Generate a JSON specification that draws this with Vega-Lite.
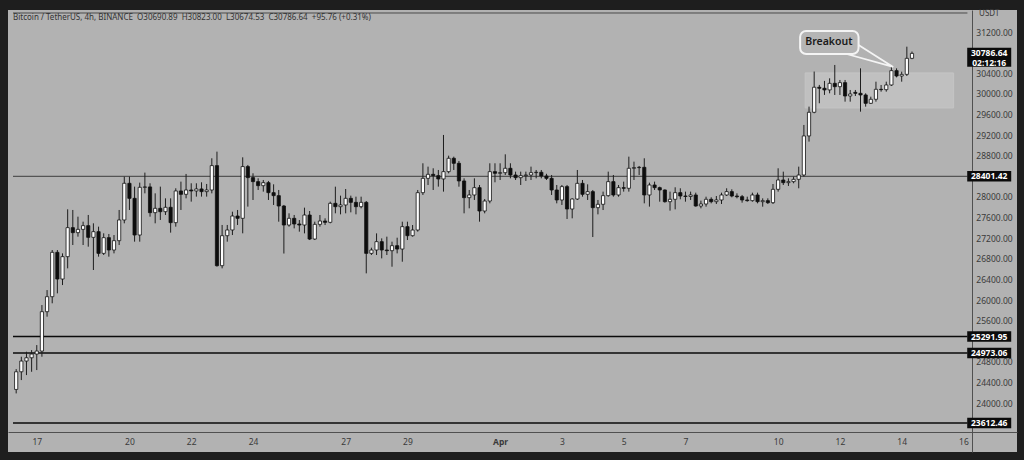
{
"$schema": "https://vega.github.io/schema/vega-lite/v6.json",
"width": 1009, "height": 442,
"autosize": {"type": "none"},
"padding": {"left": 8, "top": 10, "right": 7, "bottom": 8},
"background": "#1e1e1e",
"config": {"view": {"fill": "#b2b2b2", "stroke": null}, "font": "Noto Sans", "axis": {"labelOverlap": false}},
"title": {"text": "Bitcoin / TetherUS, 4h, BINANCE \u00a0O30690.89 \u00a0H30823.00 \u00a0L30674.53 \u00a0C30786.64 \u00a0+95.76 (+0.31%)", "anchor": "start", "frame": "group", "offset": -18, "baseline": "alphabetic", "dx": 5, "fontSize": 8, "fontWeight": "normal", "color": "#333333"},
"datasets": {
"candles": [
{"t":"2023-03-16T08:00Z","o":24265,"h":24660,"l":24188,"c":24608},
{"t":"2023-03-16T12:00Z","o":24608,"h":24900,"l":24447,"c":24816},
{"t":"2023-03-16T16:00Z","o":24816,"h":24997,"l":24544,"c":24880},
{"t":"2023-03-16T20:00Z","o":24880,"h":25029,"l":24608,"c":24952},
{"t":"2023-03-17T00:00Z","o":24952,"h":25126,"l":24641,"c":25010},
{"t":"2023-03-17T04:00Z","o":25010,"h":25903,"l":24900,"c":25774},
{"t":"2023-03-17T08:00Z","o":25774,"h":26194,"l":25677,"c":26065},
{"t":"2023-03-17T12:00Z","o":26065,"h":26971,"l":25937,"c":26926},
{"t":"2023-03-17T16:00Z","o":26926,"h":26971,"l":26130,"c":26408},
{"t":"2023-03-17T20:00Z","o":26408,"h":26906,"l":26291,"c":26842},
{"t":"2023-03-18T00:00Z","o":26842,"h":27761,"l":26615,"c":27405},
{"t":"2023-03-18T04:00Z","o":27405,"h":27748,"l":27068,"c":27308},
{"t":"2023-03-18T08:00Z","o":27308,"h":27618,"l":27230,"c":27372},
{"t":"2023-03-18T12:00Z","o":27372,"h":27521,"l":27068,"c":27444},
{"t":"2023-03-18T16:00Z","o":27444,"h":27651,"l":27036,"c":27217},
{"t":"2023-03-18T20:00Z","o":27217,"h":27489,"l":26583,"c":27327},
{"t":"2023-03-19T00:00Z","o":27327,"h":27424,"l":26842,"c":26906},
{"t":"2023-03-19T04:00Z","o":26906,"h":27295,"l":26874,"c":27211},
{"t":"2023-03-19T08:00Z","o":27211,"h":27282,"l":26842,"c":26971},
{"t":"2023-03-19T12:00Z","o":26971,"h":27262,"l":26906,"c":27152},
{"t":"2023-03-19T16:00Z","o":27152,"h":27748,"l":27068,"c":27554},
{"t":"2023-03-19T20:00Z","o":27554,"h":28395,"l":27489,"c":28266},
{"t":"2023-03-20T00:00Z","o":28266,"h":28395,"l":27748,"c":27974},
{"t":"2023-03-20T04:00Z","o":27974,"h":28201,"l":27133,"c":27262},
{"t":"2023-03-20T08:00Z","o":27262,"h":28279,"l":27133,"c":28188},
{"t":"2023-03-20T12:00Z","o":28188,"h":28473,"l":28071,"c":28195},
{"t":"2023-03-20T16:00Z","o":28195,"h":28266,"l":27618,"c":27696},
{"t":"2023-03-20T20:00Z","o":27696,"h":28071,"l":27489,"c":27780},
{"t":"2023-03-21T00:00Z","o":27780,"h":28201,"l":27554,"c":27715},
{"t":"2023-03-21T04:00Z","o":27715,"h":27974,"l":27651,"c":27800},
{"t":"2023-03-21T08:00Z","o":27800,"h":27974,"l":27308,"c":27502},
{"t":"2023-03-21T12:00Z","o":27502,"h":28169,"l":27424,"c":28117},
{"t":"2023-03-21T16:00Z","o":28117,"h":28298,"l":27748,"c":28052},
{"t":"2023-03-21T20:00Z","o":28052,"h":28447,"l":27974,"c":28136},
{"t":"2023-03-22T00:00Z","o":28136,"h":28266,"l":27910,"c":28117},
{"t":"2023-03-22T04:00Z","o":28117,"h":28266,"l":28007,"c":28156},
{"t":"2023-03-22T08:00Z","o":28156,"h":28285,"l":28007,"c":28104},
{"t":"2023-03-22T12:00Z","o":28104,"h":28253,"l":28007,"c":28136},
{"t":"2023-03-22T16:00Z","o":28136,"h":28751,"l":28071,"c":28609},
{"t":"2023-03-22T20:00Z","o":28609,"h":28880,"l":26648,"c":26667},
{"t":"2023-03-23T00:00Z","o":26667,"h":27457,"l":26615,"c":27249},
{"t":"2023-03-23T04:00Z","o":27249,"h":27457,"l":27133,"c":27360},
{"t":"2023-03-23T08:00Z","o":27360,"h":27715,"l":27262,"c":27631},
{"t":"2023-03-23T12:00Z","o":27631,"h":27748,"l":27457,"c":27586},
{"t":"2023-03-23T16:00Z","o":27586,"h":28770,"l":27295,"c":28590},
{"t":"2023-03-23T20:00Z","o":28590,"h":28622,"l":27813,"c":28376},
{"t":"2023-03-24T00:00Z","o":28376,"h":28460,"l":27942,"c":28298},
{"t":"2023-03-24T04:00Z","o":28298,"h":28362,"l":28136,"c":28220},
{"t":"2023-03-24T08:00Z","o":28220,"h":28330,"l":28104,"c":28278},
{"t":"2023-03-24T12:00Z","o":28278,"h":28311,"l":27942,"c":28084},
{"t":"2023-03-24T16:00Z","o":28084,"h":28246,"l":27845,"c":28026},
{"t":"2023-03-24T20:00Z","o":28026,"h":28136,"l":27521,"c":27825},
{"t":"2023-03-25T00:00Z","o":27825,"h":27845,"l":26903,"c":27456},
{"t":"2023-03-25T04:00Z","o":27456,"h":27683,"l":27424,"c":27586},
{"t":"2023-03-25T08:00Z","o":27586,"h":27651,"l":27391,"c":27476},
{"t":"2023-03-25T12:00Z","o":27476,"h":27553,"l":27327,"c":27456},
{"t":"2023-03-25T16:00Z","o":27456,"h":27793,"l":27294,"c":27650},
{"t":"2023-03-25T20:00Z","o":27650,"h":27728,"l":27165,"c":27184},
{"t":"2023-03-26T00:00Z","o":27184,"h":27521,"l":27165,"c":27469},
{"t":"2023-03-26T04:00Z","o":27469,"h":27650,"l":27424,"c":27534},
{"t":"2023-03-26T08:00Z","o":27534,"h":27586,"l":27456,"c":27508},
{"t":"2023-03-26T12:00Z","o":27508,"h":27909,"l":27489,"c":27877},
{"t":"2023-03-26T16:00Z","o":27877,"h":28200,"l":27683,"c":27812},
{"t":"2023-03-26T20:00Z","o":27812,"h":28026,"l":27663,"c":27845},
{"t":"2023-03-27T00:00Z","o":27845,"h":28155,"l":27683,"c":27974},
{"t":"2023-03-27T04:00Z","o":27974,"h":28026,"l":27702,"c":27896},
{"t":"2023-03-27T08:00Z","o":27896,"h":28006,"l":27663,"c":27812},
{"t":"2023-03-27T12:00Z","o":27812,"h":28006,"l":27780,"c":27896},
{"t":"2023-03-27T16:00Z","o":27896,"h":27922,"l":26518,"c":26906},
{"t":"2023-03-27T20:00Z","o":26906,"h":27016,"l":26874,"c":26971},
{"t":"2023-03-28T00:00Z","o":26971,"h":27294,"l":26874,"c":27133},
{"t":"2023-03-28T04:00Z","o":27133,"h":27197,"l":26809,"c":26971},
{"t":"2023-03-28T08:00Z","o":26971,"h":27230,"l":26874,"c":26958},
{"t":"2023-03-28T12:00Z","o":26958,"h":27133,"l":26647,"c":27055},
{"t":"2023-03-28T16:00Z","o":27055,"h":27210,"l":26906,"c":26990},
{"t":"2023-03-28T20:00Z","o":26990,"h":27521,"l":26744,"c":27424},
{"t":"2023-03-29T00:00Z","o":27424,"h":27521,"l":27165,"c":27249},
{"t":"2023-03-29T04:00Z","o":27249,"h":27456,"l":27230,"c":27359},
{"t":"2023-03-29T08:00Z","o":27359,"h":28136,"l":27327,"c":28084},
{"t":"2023-03-29T12:00Z","o":28084,"h":28654,"l":28039,"c":28362},
{"t":"2023-03-29T16:00Z","o":28362,"h":28589,"l":28233,"c":28440},
{"t":"2023-03-29T20:00Z","o":28440,"h":28557,"l":28136,"c":28414},
{"t":"2023-03-30T00:00Z","o":28414,"h":28524,"l":28201,"c":28350},
{"t":"2023-03-30T04:00Z","o":28350,"h":29204,"l":28104,"c":28492},
{"t":"2023-03-30T08:00Z","o":28492,"h":28802,"l":28459,"c":28751},
{"t":"2023-03-30T12:00Z","o":28751,"h":28783,"l":28524,"c":28654},
{"t":"2023-03-30T16:00Z","o":28654,"h":28699,"l":28200,"c":28311},
{"t":"2023-03-30T20:00Z","o":28311,"h":28362,"l":27683,"c":27987},
{"t":"2023-03-31T00:00Z","o":27987,"h":28136,"l":27780,"c":28039},
{"t":"2023-03-31T04:00Z","o":28039,"h":28362,"l":27942,"c":28181},
{"t":"2023-03-31T08:00Z","o":28181,"h":28233,"l":27521,"c":27728},
{"t":"2023-03-31T12:00Z","o":27728,"h":27961,"l":27683,"c":27922},
{"t":"2023-03-31T16:00Z","o":27922,"h":28654,"l":27877,"c":28492},
{"t":"2023-03-31T20:00Z","o":28492,"h":28654,"l":28285,"c":28460},
{"t":"2023-04-01T00:00Z","o":28460,"h":28654,"l":28330,"c":28472},
{"t":"2023-04-01T04:00Z","o":28472,"h":28828,"l":28427,"c":28557},
{"t":"2023-04-01T08:00Z","o":28557,"h":28654,"l":28362,"c":28427},
{"t":"2023-04-01T12:00Z","o":28427,"h":28492,"l":28330,"c":28375},
{"t":"2023-04-01T16:00Z","o":28375,"h":28492,"l":28233,"c":28414},
{"t":"2023-04-01T20:00Z","o":28414,"h":28492,"l":28311,"c":28427},
{"t":"2023-04-02T00:00Z","o":28427,"h":28589,"l":28330,"c":28472},
{"t":"2023-04-02T04:00Z","o":28472,"h":28524,"l":28362,"c":28480},
{"t":"2023-04-02T08:00Z","o":28480,"h":28524,"l":28362,"c":28408},
{"t":"2023-04-02T12:00Z","o":28408,"h":28450,"l":28330,"c":28362},
{"t":"2023-04-02T16:00Z","o":28362,"h":28427,"l":28039,"c":28136},
{"t":"2023-04-02T20:00Z","o":28136,"h":28233,"l":27877,"c":27942},
{"t":"2023-04-03T00:00Z","o":27942,"h":28233,"l":27845,"c":28201},
{"t":"2023-04-03T04:00Z","o":28201,"h":28233,"l":27573,"c":27767},
{"t":"2023-04-03T08:00Z","o":27767,"h":27974,"l":27586,"c":27961},
{"t":"2023-04-03T12:00Z","o":27961,"h":28524,"l":27942,"c":28265},
{"t":"2023-04-03T16:00Z","o":28265,"h":28330,"l":28006,"c":28052},
{"t":"2023-04-03T20:00Z","o":28052,"h":28246,"l":27942,"c":28104},
{"t":"2023-04-04T00:00Z","o":28104,"h":28136,"l":27223,"c":27793},
{"t":"2023-04-04T04:00Z","o":27793,"h":27942,"l":27663,"c":27858},
{"t":"2023-04-04T08:00Z","o":27858,"h":28104,"l":27747,"c":28026},
{"t":"2023-04-04T12:00Z","o":28026,"h":28492,"l":28006,"c":28298},
{"t":"2023-04-04T16:00Z","o":28298,"h":28427,"l":28006,"c":28039},
{"t":"2023-04-04T20:00Z","o":28039,"h":28233,"l":28006,"c":28181},
{"t":"2023-04-05T00:00Z","o":28181,"h":28298,"l":28104,"c":28169},
{"t":"2023-04-05T04:00Z","o":28169,"h":28783,"l":28104,"c":28557},
{"t":"2023-04-05T08:00Z","o":28557,"h":28686,"l":28330,"c":28570},
{"t":"2023-04-05T12:00Z","o":28570,"h":28602,"l":28427,"c":28576},
{"t":"2023-04-05T16:00Z","o":28576,"h":28751,"l":27877,"c":28039},
{"t":"2023-04-05T20:00Z","o":28039,"h":28278,"l":27813,"c":28233},
{"t":"2023-04-06T00:00Z","o":28233,"h":28298,"l":28136,"c":28181},
{"t":"2023-04-06T04:00Z","o":28181,"h":28201,"l":27909,"c":28136},
{"t":"2023-04-06T08:00Z","o":28136,"h":28149,"l":27890,"c":27909},
{"t":"2023-04-06T12:00Z","o":27909,"h":28104,"l":27735,"c":27955},
{"t":"2023-04-06T16:00Z","o":27955,"h":28188,"l":27760,"c":28084},
{"t":"2023-04-06T20:00Z","o":28084,"h":28169,"l":27955,"c":28019},
{"t":"2023-04-07T00:00Z","o":28019,"h":28104,"l":27909,"c":28010},
{"t":"2023-04-07T04:00Z","o":28010,"h":28104,"l":27942,"c":28039},
{"t":"2023-04-07T08:00Z","o":28039,"h":28084,"l":27812,"c":27825},
{"t":"2023-04-07T12:00Z","o":27825,"h":27929,"l":27780,"c":27864},
{"t":"2023-04-07T16:00Z","o":27864,"h":28006,"l":27812,"c":27955},
{"t":"2023-04-07T20:00Z","o":27955,"h":27994,"l":27877,"c":27909},
{"t":"2023-04-08T00:00Z","o":27909,"h":28019,"l":27864,"c":27942},
{"t":"2023-04-08T04:00Z","o":27942,"h":28084,"l":27864,"c":28039},
{"t":"2023-04-08T08:00Z","o":28039,"h":28169,"l":28019,"c":28104},
{"t":"2023-04-08T12:00Z","o":28104,"h":28149,"l":27994,"c":28019},
{"t":"2023-04-08T16:00Z","o":28019,"h":28071,"l":27974,"c":28006},
{"t":"2023-04-08T20:00Z","o":28006,"h":28039,"l":27890,"c":27942},
{"t":"2023-04-09T00:00Z","o":27942,"h":28006,"l":27909,"c":27929},
{"t":"2023-04-09T04:00Z","o":27929,"h":28084,"l":27909,"c":28039},
{"t":"2023-04-09T08:00Z","o":28039,"h":28084,"l":27877,"c":27909},
{"t":"2023-04-09T12:00Z","o":27909,"h":27974,"l":27812,"c":27929},
{"t":"2023-04-09T16:00Z","o":27929,"h":27974,"l":27864,"c":27890},
{"t":"2023-04-09T20:00Z","o":27890,"h":28252,"l":27864,"c":28149},
{"t":"2023-04-10T00:00Z","o":28149,"h":28557,"l":28104,"c":28330},
{"t":"2023-04-10T04:00Z","o":28330,"h":28492,"l":28233,"c":28278},
{"t":"2023-04-10T08:00Z","o":28278,"h":28362,"l":28214,"c":28298},
{"t":"2023-04-10T12:00Z","o":28298,"h":28395,"l":28266,"c":28343},
{"t":"2023-04-10T16:00Z","o":28343,"h":28589,"l":28169,"c":28427},
{"t":"2023-04-10T20:00Z","o":28427,"h":29398,"l":28395,"c":29185},
{"t":"2023-04-11T00:00Z","o":29185,"h":29754,"l":29075,"c":29644},
{"t":"2023-04-11T04:00Z","o":29644,"h":30434,"l":29625,"c":30130},
{"t":"2023-04-11T08:00Z","o":30130,"h":30175,"l":29819,"c":30110},
{"t":"2023-04-11T12:00Z","o":30110,"h":30253,"l":29981,"c":30078},
{"t":"2023-04-11T16:00Z","o":30078,"h":30303,"l":30012,"c":30206},
{"t":"2023-04-11T20:00Z","o":30206,"h":30562,"l":29980,"c":30141},
{"t":"2023-04-12T00:00Z","o":30141,"h":30271,"l":29980,"c":30219},
{"t":"2023-04-12T04:00Z","o":30219,"h":30271,"l":29850,"c":29960},
{"t":"2023-04-12T08:00Z","o":29960,"h":30077,"l":29850,"c":29999},
{"t":"2023-04-12T12:00Z","o":30031,"h":30077,"l":29960,"c":30012},
{"t":"2023-04-12T16:00Z","o":30012,"h":30497,"l":29656,"c":29980},
{"t":"2023-04-12T20:00Z","o":29980,"h":30012,"l":29753,"c":29818},
{"t":"2023-04-13T00:00Z","o":29818,"h":29947,"l":29805,"c":29896},
{"t":"2023-04-13T04:00Z","o":29896,"h":30238,"l":29850,"c":30090},
{"t":"2023-04-13T08:00Z","o":30090,"h":30174,"l":30044,"c":30083},
{"t":"2023-04-13T12:00Z","o":30083,"h":30238,"l":30044,"c":30174},
{"t":"2023-04-13T16:00Z","o":30174,"h":30529,"l":30155,"c":30452},
{"t":"2023-04-13T20:00Z","o":30452,"h":30497,"l":30322,"c":30348},
{"t":"2023-04-14T00:00Z","o":30348,"h":30432,"l":30238,"c":30380},
{"t":"2023-04-14T04:00Z","o":30380,"h":30917,"l":30348,"c":30691},
{"t":"2023-04-14T08:00Z","o":30690.89,"h":30823,"l":30674.53,"c":30786.64}
],
"levels": [
{"p": 28401.42, "lab": "28401.42"},
{"p": 25291.95, "lab": "25291.95"},
{"p": 24973.06, "lab": "24973.06"},
{"p": 23612.46, "lab": "23612.46"}
]
},
"layer": [
{
"data": {"values": [{"a": "2023-04-10T21:00Z", "b": "2023-04-15T16:20Z", "lo": 29728, "hi": 30408}]},
"mark": {"type": "rect", "fill": "#c0c0c0", "stroke": "#c4c4c4", "strokeWidth": 1},
"encoding": {
"x": {"field": "a", "type": "temporal",
"scale": {"type": "utc", "domain": [{"year":2023,"month":3,"date":16,"hours":5,"minutes":32,"utc":true},{"year":2023,"month":4,"date":17,"hours":13,"minutes":42,"utc":true}]},
"axis": {"orient": "bottom", "offset": -20, "title": null, "grid": false, "ticks": false, "tickSize": 0, "tickCount": 40, "labelPadding": 5, "labelFontSize": 8.5, "labelColor": "#3a3a3a", "domainColor": "#505050", "domainWidth": 1, "labelFlush": false, "labelOverlap": false, "zindex": 0,
"values": [{"year":2023,"month":3,"date":17,"utc":true},{"year":2023,"month":3,"date":20,"utc":true},{"year":2023,"month":3,"date":22,"utc":true},{"year":2023,"month":3,"date":24,"utc":true},{"year":2023,"month":3,"date":27,"utc":true},{"year":2023,"month":3,"date":29,"utc":true},{"year":2023,"month":4,"date":1,"utc":true},{"year":2023,"month":4,"date":3,"utc":true},{"year":2023,"month":4,"date":5,"utc":true},{"year":2023,"month":4,"date":7,"utc":true},{"year":2023,"month":4,"date":10,"utc":true},{"year":2023,"month":4,"date":12,"utc":true},{"year":2023,"month":4,"date":14,"utc":true},{"year":2023,"month":4,"date":16,"utc":true}],
"labelExpr": "utcFormat(datum.value, '%d') == '01' ? utcFormat(datum.value, '%b') : utcFormat(datum.value, '%-d')",
"labelFontWeight": {"condition": {"test": "utcFormat(datum.value, '%d') == '01'", "value": "bold"}, "value": "normal"}}},
"x2": {"field": "b"},
"y": {"field": "lo", "type": "quantitative", "scale": {"domain": [23051, 31629], "nice": false, "zero": false},
"axis": {"orient": "right", "offset": -45, "title": null, "grid": false, "ticks": false, "tickSize": 0, "tickCount": 40, "labelPadding": 22, "labelAlign": "center", "labelBaseline": "middle", "labelFontSize": 8.5, "labelColor": "#3a3a3a", "domainColor": "#505050", "domainWidth": 1, "labelFlush": false, "labelOverlap": false, "zindex": 0, "format": ".2f",
"values": [24000, 24400, 24800, 25600, 26000, 26400, 26800, 27200, 27600, 28000, 28800, 29200, 29600, 30000, 30400, 31200]}},
"y2": {"field": "hi"}
}
},
{
"data": {"name": "levels"},
"mark": {"type": "rule"},
"encoding": {
"x": {"datum": {"year":2023,"month":3,"date":16,"hours":5,"minutes":32,"utc":true}, "type": "temporal", "scale": {"type": "utc", "domain": [{"year":2023,"month":3,"date":16,"hours":5,"minutes":32,"utc":true},{"year":2023,"month":4,"date":17,"hours":13,"minutes":42,"utc":true}]}},
"x2": {"datum": {"year":2023,"month":4,"date":16,"hours":3,"minutes":4,"utc":true}},
"y": {"field": "p", "type": "quantitative", "scale": {"domain": [23051, 31629], "nice": false, "zero": false}},
"color": {"condition": {"test": "datum.p > 28000", "value": "#3c3c3c"}, "value": "#0a0a0a"},
"strokeWidth": {"condition": {"test": "datum.p > 28000", "value": 1}, "value": 1.6}
}
},
{
"data": {"values": [{"p": 31571}]},
"mark": {"type": "rule", "color": "#4a4a4a", "strokeWidth": 1},
"encoding": {
"x": {"datum": {"year":2023,"month":3,"date":16,"hours":5,"minutes":32,"utc":true}, "type": "temporal", "scale": {"type": "utc", "domain": [{"year":2023,"month":3,"date":16,"hours":5,"minutes":32,"utc":true},{"year":2023,"month":4,"date":17,"hours":13,"minutes":42,"utc":true}]}},
"x2": {"datum": {"year":2023,"month":4,"date":16,"hours":3,"minutes":4,"utc":true}},
"y": {"field": "p", "type": "quantitative", "scale": {"domain": [23051, 31629], "nice": false, "zero": false}}
}
},
{
"data": {"name": "candles"},
"mark": {"type": "rule", "color": "#1e1e1e", "strokeWidth": 1},
"encoding": {
"x": {"field": "t", "type": "temporal", "scale": {"type": "utc", "domain": [{"year":2023,"month":3,"date":16,"hours":5,"minutes":32,"utc":true},{"year":2023,"month":4,"date":17,"hours":13,"minutes":42,"utc":true}]}},
"y": {"field": "l", "type": "quantitative", "scale": {"domain": [23051, 31629], "nice": false, "zero": false}},
"y2": {"field": "h"}
}
},
{
"data": {"name": "candles"},
"mark": {"type": "bar", "size": 3.2, "stroke": "#111111", "strokeWidth": 0.8},
"encoding": {
"x": {"field": "t", "type": "temporal", "scale": {"type": "utc", "domain": [{"year":2023,"month":3,"date":16,"hours":5,"minutes":32,"utc":true},{"year":2023,"month":4,"date":17,"hours":13,"minutes":42,"utc":true}]}},
"y": {"field": "o", "type": "quantitative", "scale": {"domain": [23051, 31629], "nice": false, "zero": false}},
"y2": {"field": "c"},
"fill": {"condition": {"test": "datum.c >= datum.o", "value": "#ffffff"}, "value": "#0d0d0d"}
}
},
{
"data": {"values": [{"a": "2023-04-10T17:05Z", "b": "2023-04-12T14:28Z", "lo": 30775, "hi": 31222}]},
"mark": {"type": "rect", "fill": "#b5b5b5", "stroke": "#f4f4f4", "strokeWidth": 2, "cornerRadius": 6},
"encoding": {
"x": {"field": "a", "type": "temporal", "scale": {"type": "utc", "domain": [{"year":2023,"month":3,"date":16,"hours":5,"minutes":32,"utc":true},{"year":2023,"month":4,"date":17,"hours":13,"minutes":42,"utc":true}]}},
"x2": {"field": "b"},
"y": {"field": "lo", "type": "quantitative", "scale": {"domain": [23051, 31629], "nice": false, "zero": false}},
"y2": {"field": "hi"}
}
},
{
"data": {"values": [{"t": "2023-04-12T05:14Z", "p": 30775, "k": 1}, {"t": "2023-04-13T17:23Z", "p": 30523, "k": 2}, {"t": "2023-04-12T14:28Z", "p": 30950, "k": 3}]},
"mark": {"type": "line", "color": "#f4f4f4", "strokeWidth": 1.8},
"encoding": {
"x": {"field": "t", "type": "temporal", "scale": {"type": "utc", "domain": [{"year":2023,"month":3,"date":16,"hours":5,"minutes":32,"utc":true},{"year":2023,"month":4,"date":17,"hours":13,"minutes":42,"utc":true}]}},
"y": {"field": "p", "type": "quantitative", "scale": {"domain": [23051, 31629], "nice": false, "zero": false}},
"order": {"field": "k"}
}
},
{
"data": {"values": [{"t": "2023-04-11T15:23Z", "p": 31008, "s": "Breakout"}]},
"mark": {"type": "text", "fontSize": 10.5, "fontWeight": 600, "color": "#1a1a1a", "align": "center", "baseline": "middle"},
"encoding": {
"x": {"field": "t", "type": "temporal", "scale": {"type": "utc", "domain": [{"year":2023,"month":3,"date":16,"hours":5,"minutes":32,"utc":true},{"year":2023,"month":4,"date":17,"hours":13,"minutes":42,"utc":true}]}},
"y": {"field": "p", "type": "quantitative", "scale": {"domain": [23051, 31629], "nice": false, "zero": false}},
"text": {"field": "s"}
}
},
{
"data": {"name": "levels"},
"mark": {"type": "point", "shape": "M-1,-0.24H1V0.24H-1Z", "filled": true, "color": "#0b0b0b", "opacity": 1, "size": 1936, "strokeWidth": 0},
"encoding": {
"x": {"datum": {"year":2023,"month":4,"date":16,"hours":20,"utc":true}, "type": "temporal", "scale": {"type": "utc", "domain": [{"year":2023,"month":3,"date":16,"hours":5,"minutes":32,"utc":true},{"year":2023,"month":4,"date":17,"hours":13,"minutes":42,"utc":true}]}},
"y": {"field": "p", "type": "quantitative", "scale": {"domain": [23051, 31629], "nice": false, "zero": false}}
}
},
{
"data": {"name": "levels"},
"mark": {"type": "text", "fontSize": 8.5, "fontWeight": "bold", "color": "#ffffff", "align": "center", "baseline": "middle"},
"encoding": {
"x": {"datum": {"year":2023,"month":4,"date":16,"hours":20,"utc":true}, "type": "temporal", "scale": {"type": "utc", "domain": [{"year":2023,"month":3,"date":16,"hours":5,"minutes":32,"utc":true},{"year":2023,"month":4,"date":17,"hours":13,"minutes":42,"utc":true}]}},
"y": {"field": "p", "type": "quantitative", "scale": {"domain": [23051, 31629], "nice": false, "zero": false}},
"text": {"field": "lab"}
}
},
{
"data": {"values": [{"p": 30786.64, "lab": "30786.64", "sub": "02:12:16"}]},
"layer": [
{"mark": {"type": "point", "shape": "M-1,-0.26H1V0.61H-1Z", "filled": true, "color": "#0b0b0b", "opacity": 1, "size": 1936, "strokeWidth": 0}},
{"mark": {"type": "text", "fontSize": 8.5, "fontWeight": "bold", "color": "#ffffff", "align": "center", "baseline": "middle"}, "encoding": {"text": {"field": "lab"}}},
{"mark": {"type": "text", "fontSize": 8.5, "fontWeight": "bold", "color": "#ffffff", "align": "center", "baseline": "middle", "dy": 9.5}, "encoding": {"text": {"field": "sub"}}}
],
"encoding": {
"x": {"datum": {"year":2023,"month":4,"date":16,"hours":20,"utc":true}, "type": "temporal", "scale": {"type": "utc", "domain": [{"year":2023,"month":3,"date":16,"hours":5,"minutes":32,"utc":true},{"year":2023,"month":4,"date":17,"hours":13,"minutes":42,"utc":true}]}},
"y": {"field": "p", "type": "quantitative", "scale": {"domain": [23051, 31629], "nice": false, "zero": false}}
}
},
{
"data": {"values": [{"p": 31551, "s": "USDT"}]},
"mark": {"type": "text", "fontSize": 8, "color": "#3a3a3a", "align": "center", "baseline": "middle"},
"encoding": {
"x": {"datum": {"year":2023,"month":4,"date":16,"hours":20,"utc":true}, "type": "temporal", "scale": {"type": "utc", "domain": [{"year":2023,"month":3,"date":16,"hours":5,"minutes":32,"utc":true},{"year":2023,"month":4,"date":17,"hours":13,"minutes":42,"utc":true}]}},
"y": {"field": "p", "type": "quantitative", "scale": {"domain": [23051, 31629], "nice": false, "zero": false}},
"text": {"field": "s"}
}
}
]
}
